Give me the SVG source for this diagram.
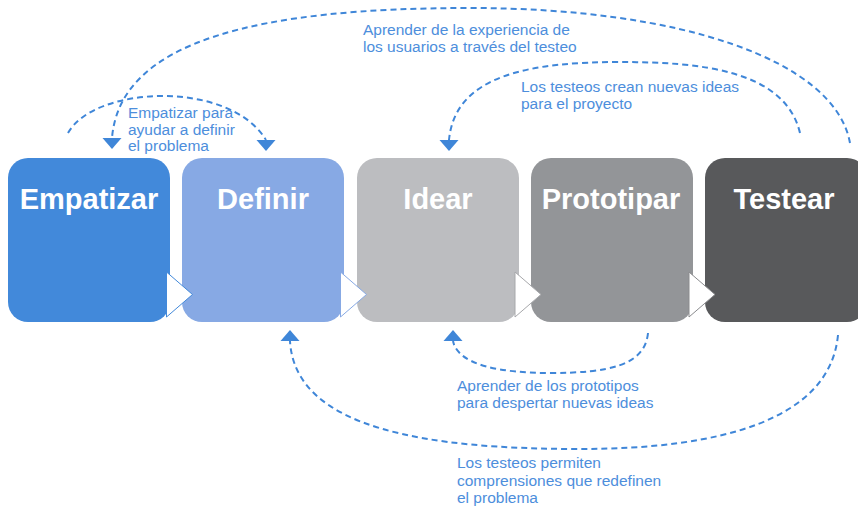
<svg xmlns="http://www.w3.org/2000/svg" width="858" height="508" viewBox="0 0 858 508">
  <style>
    .box-title { font-family: "Liberation Sans", Arial, sans-serif; font-weight: bold; font-size: 29px; fill: #ffffff; text-anchor: middle; }
    .lbl { font-family: "Liberation Sans", Arial, sans-serif; font-size: 15.5px; fill: #4d8edc; }
    .dash { fill: none; stroke: #3f86d8; stroke-width: 2; stroke-dasharray: 6 4; }
    .head { fill: #3f86d8; }
    .chev { fill: #ffffff; stroke-width: 1; }
  </style>
  <defs>
    <path id="ahDown" d="M-9.5,0 L9.5,0 L0,11 Z"/>
  </defs>
  <rect width="858" height="508" fill="#ffffff"/>

  <g id="node-empatizar">
    <rect x="8" y="158" width="162" height="164" rx="20" fill="#4289da"/>
    <text class="box-title" x="89" y="208.5">Empatizar</text>
  </g>
  <g id="node-definir">
    <rect x="182" y="158" width="162" height="164" rx="20" fill="#87a9e4"/>
    <text class="box-title" x="263" y="208.5">Definir</text>
  </g>
  <g id="node-idear">
    <rect x="357" y="158" width="162" height="164" rx="20" fill="#bcbdc0"/>
    <text class="box-title" x="438" y="208.5">Idear</text>
  </g>
  <g id="node-prototipar">
    <rect x="531" y="158" width="162" height="164" rx="20" fill="#939598"/>
    <text class="box-title" x="611" y="208.5">Prototipar</text>
  </g>
  <g id="node-testear">
    <rect x="705" y="158" width="162" height="164" rx="20" fill="#58595b"/>
    <text class="box-title" x="784" y="208.5">Testear</text>
  </g>

  <g id="chevrons">
    <polygon class="chev" stroke="#4289da" points="166.5,272 192.5,294.5 166.5,317"/>
    <polygon class="chev" stroke="#87a9e4" points="340.5,272 366.5,294.5 340.5,317"/>
    <polygon class="chev" stroke="#a7a8ab" points="515,272 541,294.5 515,317"/>
    <polygon class="chev" stroke="#8a8b8e" points="689,272 715,294.5 689,317"/>
  </g>

  <g id="connectors">
    <path class="dash" d="M850,143 C835,60 680,8 470,8 C260,8 120,40 112,138"/>
    <use href="#ahDown" class="head" transform="translate(112,138)"/>
    <path class="dash" d="M68,133 C95,85 230,80 266,140"/>
    <use href="#ahDown" class="head" transform="translate(266,140)"/>
    <path class="dash" d="M800,133 C785,70 700,62 620,62 C530,62 455,75 449,140"/>
    <use href="#ahDown" class="head" transform="translate(449,140)"/>
    <path class="dash" d="M648,333 C645,365 610,373 550,373 C500,373 458,365 453,341"/>
    <use href="#ahDown" class="head" transform="translate(453,341) rotate(180)"/>
    <path class="dash" d="M838,335 C830,420 720,449 580,449 C430,449 295,430 290,341"/>
    <use href="#ahDown" class="head" transform="translate(290,341) rotate(180)"/>
  </g>

  <g id="labels">
    <text class="lbl" x="128" y="118">Empatizar para</text>
    <text class="lbl" x="128" y="134.5">ayudar a definir</text>
    <text class="lbl" x="128" y="151">el problema</text>

    <text class="lbl" x="363" y="35">Aprender de la experiencia de</text>
    <text class="lbl" x="363" y="51.5">los usuarios a través del testeo</text>

    <text class="lbl" x="521" y="92">Los testeos crean nuevas ideas</text>
    <text class="lbl" x="521" y="108.5">para el proyecto</text>

    <text class="lbl" x="457" y="391">Aprender de los prototipos</text>
    <text class="lbl" x="457" y="408">para despertar nuevas ideas</text>

    <text class="lbl" x="457" y="468">Los testeos permiten</text>
    <text class="lbl" x="457" y="485.5">comprensiones que redefinen</text>
    <text class="lbl" x="457" y="503">el problema</text>
  </g>
</svg>
